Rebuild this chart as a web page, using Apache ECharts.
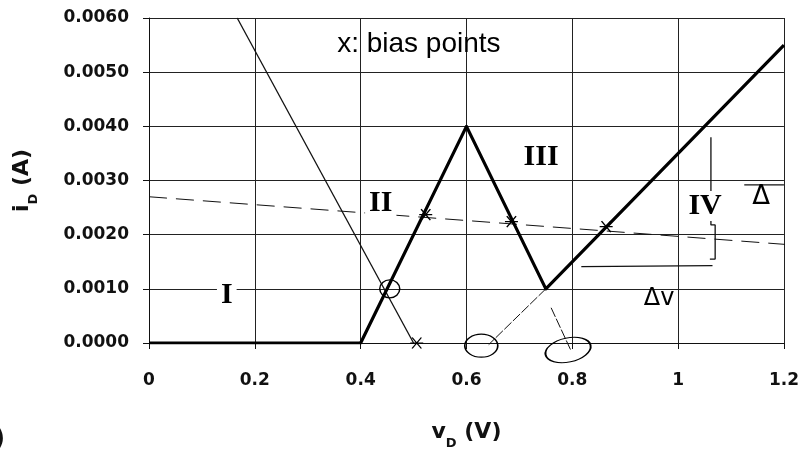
<!DOCTYPE html>
<html>
<head>
<meta charset="utf-8">
<script src="https://cdn.jsdelivr.net/npm/echarts@6/dist/echarts.min.js"></script>
<style>
  html, body { margin: 0; padding: 0; background: #fff; overflow: hidden; }
  #chart { width: 100vw; height: 100vh; }
</style>
</head>
<body>
<div id="chart"></div>
<script>
// Diode characteristic (piecewise linear) with load line and bias points
const curveV = [0, 0.4, 0.6, 0.75, 1.2];
const curveI = [0, 0, 0.004, 0.001, 0.0055];

// Resistor load line
const loadV = [0.1667, 0.5];
const loadI = [0.006, 0];

// Dashed small-signal line through the bias points
const dashV = [0, 1.23];
const dashI = [0.00270, 0.00180];

// Bias points (x marks)
const biasV = [0.523, 0.685, 0.864, 0.506];
const biasI = [0.00237, 0.00224, 0.00215, 0];

// Hand-drawn guide strokes from the valley point
const guideAV = [0.75, 0.642];
const guideAI = [0.001, -0.00003];
const guideBV = [0.76, 0.797];
const guideBI = [0.00065, -0.00013];

// ΔI / ΔV brackets
const bracketIV = [1.062, 1.062, 1.07, 1.07, 1.06];
const bracketII = [0.00380, 0.00218, 0.00218, 0.00155, 0.00155];
const bracketVV = [0.817, 1.065];
const bracketVI = [0.00141, 0.00143];
const deltaTopV = [1.125, 1.2];
const deltaTopI = [0.00292, 0.00292];

// Circled points: [v, i, width, height, rotation]
const ringV = [0.455, 0.628, 0.792];
const ringI = [0.00100, -0.00005, -0.00013];
const ringW = [20, 33, 46];
const ringH = [18, 23, 24];
const ringRot = [0, 0, 12];

// Region labels and notes
const noteText = ['I', 'II', 'III', 'IV', 'Δ', 'Δv', 'x: bias points'];
const noteV = [0.147, 0.438, 0.741, 1.051, 1.157, 0.964, 0.51];
const noteI = [0.00088, 0.00258, 0.00343, 0.00253, 0.00270, 0.00082, 0.00551];
const noteFont = ['Liberation Serif', 'Liberation Serif', 'Liberation Serif', 'Liberation Serif', 'DejaVu Sans', 'DejaVu Sans', 'Liberation Sans'];
const noteSize = [30, 30, 30, 30, 26, 24, 28];
const noteWeight = ['bold', 'bold', 'bold', 'bold', 'normal', 'normal', 'normal'];

const pairs = (xs, ys) => xs.map((x, k) => [x, ys[k]]);

const chart = echarts.init(document.getElementById('chart'), null, { renderer: 'canvas' });

const thinLine = (name, xs, ys, w, type) => ({
  name, type: 'line', data: pairs(xs, ys), symbol: 'none', clip: false,
  lineStyle: { color: '#111', width: w, type: type || 'solid' },
  silent: true, z: 3
});

const axisNameRich = {
  v: { fontFamily: 'DejaVu Sans', fontWeight: 'bold', fontSize: 22, color: '#111' },
  s: { fontFamily: 'DejaVu Sans', fontWeight: 'bold', fontSize: 13, color: '#111', verticalAlign: 'bottom', padding: [0, 0, -7, 0] }
};

chart.setOption({
  animation: false,
  backgroundColor: '#fff',
  grid: { left: 149, right: 15, top: 18, bottom: 107, containLabel: false },
  xAxis: {
    type: 'value', min: 0, max: 1.2, interval: 0.2,
    name: '{v|v}{s|D}{v| (V)}', nameLocation: 'middle', nameGap: 78,
    nameTextStyle: { rich: axisNameRich },
    axisLine: { show: true, lineStyle: { color: '#111', width: 1 } },
    axisTick: { show: true, length: 6, lineStyle: { color: '#111' } },
    axisLabel: { margin: 29, fontFamily: 'DejaVu Sans', fontWeight: 'bold', fontSize: 17, color: '#111' },
    splitLine: { show: true, lineStyle: { color: '#222', width: 1 } }
  },
  yAxis: {
    type: 'value', min: 0, max: 0.006, interval: 0.001,
    name: '{v|i}{s|D}{v| (A)}', nameLocation: 'middle', nameGap: 116, nameRotate: 90,
    nameTextStyle: { rich: axisNameRich },
    axisLine: { show: true, lineStyle: { color: '#111', width: 1 } },
    axisTick: { show: true, length: 6, lineStyle: { color: '#111' } },
    axisLabel: {
      margin: 20, fontFamily: 'DejaVu Sans', fontWeight: 'bold', fontSize: 17, color: '#111',
      formatter: v => v.toFixed(4)
    },
    splitLine: { show: true, lineStyle: { color: '#222', width: 1 } }
  },
  series: [
    thinLine('dashed', dashV, dashI, 1, [18, 9]),
    thinLine('load', loadV, loadI, 1.3),
    thinLine('guideA', guideAV, guideAI, 1, [10, 2]),
    thinLine('guideB', guideBV, guideBI, 1, [10, 2]),
    thinLine('bracketI', bracketIV, bracketII, 1.3),
    thinLine('bracketV', bracketVV, bracketVI, 1.3),
    thinLine('deltaTop', deltaTopV, deltaTopI, 1.3),
    {
      name: 'diode', type: 'line', data: pairs(curveV, curveI), symbol: 'none',
      lineStyle: { color: '#000', width: 3.2, join: 'round' }, z: 5
    },
    {
      name: 'bias', type: 'scatter', data: pairs(biasV, biasI), clip: false,
      symbol: 'path://M0,0L10,10M10,0L0,10M-2,5L12,5', symbolSize: [13, 11],
      itemStyle: { color: 'rgba(0,0,0,0)', borderColor: '#000', borderWidth: 1.3, opacity: 1 }, z: 6
    },
    {
      name: 'rings', type: 'scatter', clip: false, z: 6,
      data: ringV.map((v, k) => ({
        value: [v, ringI[k]], symbolSize: [ringW[k], ringH[k]], symbolRotate: ringRot[k]
      })),
      symbol: 'circle',
      itemStyle: { color: 'rgba(0,0,0,0)', borderColor: '#000', borderWidth: 1.4, opacity: 1 }
    },
    {
      name: 'notes', type: 'scatter', clip: false, z: 7, symbolSize: 0,
      itemStyle: { opacity: 1 },
      data: noteText.map((t, k) => ({
        value: [noteV[k], noteI[k]],
        label: {
          show: true, position: 'inside', formatter: t,
          fontFamily: noteFont[k], fontSize: noteSize[k], fontWeight: noteWeight[k], color: '#000',
          backgroundColor: k < 4 ? '#fff' : 'transparent', padding: [0, 4]
        }
      }))
    }
  ],
  graphic: [
    {
      type: 'text', left: -6, top: 428,
      style: { text: ')', fontFamily: 'DejaVu Sans', fontWeight: 'bold', fontSize: 24, fill: '#111' }
    }
  ]
});
window.addEventListener('resize', () => chart.resize());
</script>
</body>
</html>
